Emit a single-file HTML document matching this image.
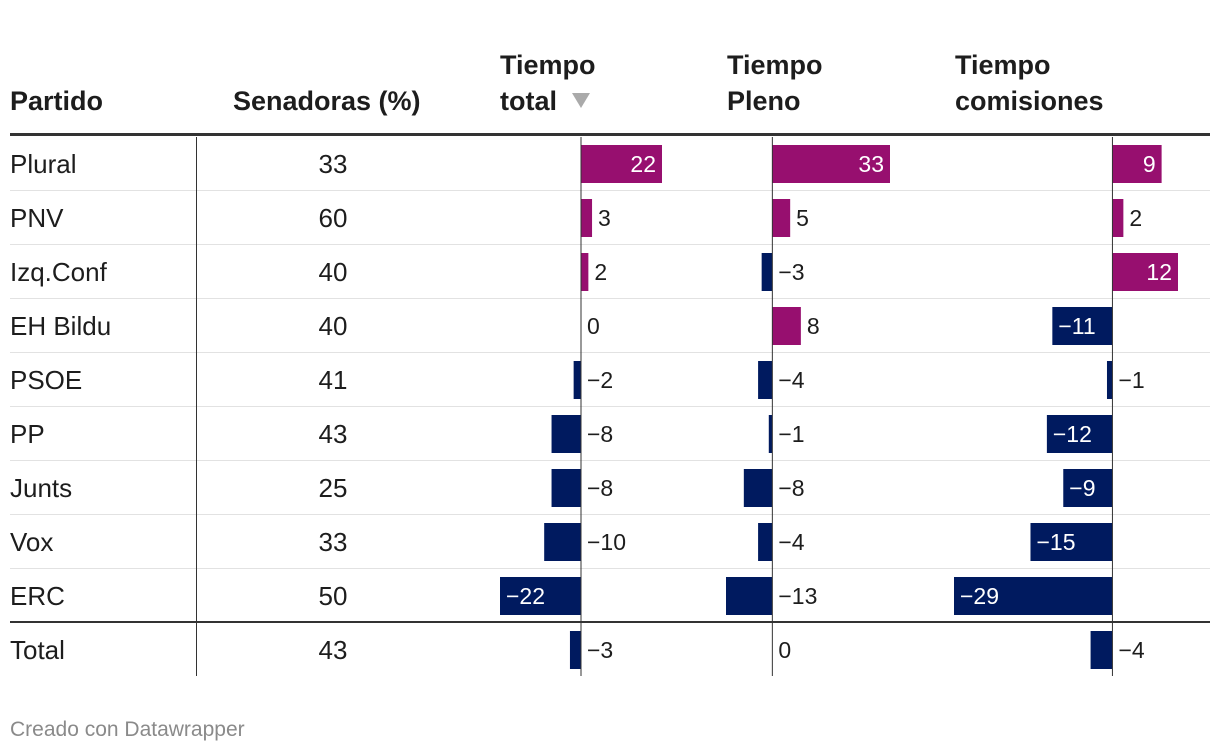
<!DOCTYPE html>
<html><head><meta charset="utf-8"><style>
body{margin:0;background:#fff;width:1220px;height:752px;overflow:hidden;font-family:"Liberation Sans",Arial,sans-serif}
svg{display:block}
</style></head><body>
<svg id="chart" width="1220" height="752"></svg>
<script>
const parties=["Plural","PNV","Izq.Conf","EH Bildu","PSOE","PP","Junts","Vox","ERC","Total"];
const senadoras=[33,60,40,40,41,43,25,33,50,43];
const tiempoTotal=[22,3,2,0,-2,-8,-8,-10,-22,-3];
const tiempoPleno=[33,5,-3,8,-4,-1,-8,-4,-13,0];
const tiempoComisiones=[9,2,12,-11,-1,-12,-9,-15,-29,-4];

const NS="http://www.w3.org/2000/svg";
const svg=document.getElementById('chart');
function el(tag,attrs,parent){const e=document.createElementNS(NS,tag);for(const k in attrs)e.setAttribute(k,attrs[k]);(parent||svg).appendChild(e);return e;}
const POS="#970f6f",NEG="#001a5f",TXT="#1d1d1d";
const rowTop=137,rowH=54;

const hdr=[["Partido",10],["Senadoras (%)",233]];
hdr.forEach(h=>{const t=el('text',{x:h[1],y:110,'font-size':27,'font-weight':'bold',fill:TXT});t.textContent=h[0];

});
[["Tiempo","total",500,true],["Tiempo","Pleno",727,false],["Tiempo","comisiones",955,false]].forEach(h=>{
 const t1=el('text',{x:h[2],y:74,'font-size':27,'font-weight':'bold',fill:TXT});t1.textContent=h[0];
 
 
 const t2=el('text',{x:h[2],y:110,'font-size':27,'font-weight':'bold',fill:TXT});t2.textContent=h[1];
 
 
 if(h[3]){const a=el('path',{d:'M572 93 L590 93 L581 108 Z',fill:'#aaa'});
 
 }
});
const hl=el('rect',{x:10,y:133,width:1200,height:3,fill:'#333'});



parties.forEach((p,i)=>{
 const y=rowTop+i*rowH;
 if(i>0&&i<parties.length-1){const l=el('rect',{x:10,y:y-1,width:1200,height:1,fill:'#e2e2e2'});
 
 }
 if(i===parties.length-1){const l=el('rect',{x:10,y:y-2,width:1200,height:2,fill:'#333'});
 
 }
 const t=el('text',{x:10,y:y+36,'font-size':26,fill:TXT});t.textContent=p;
 
 
 const s=el('text',{x:333,y:y+36,'font-size':26,fill:TXT,'text-anchor':'middle'});s.textContent=senadoras[i];
 
 
});
const vl=el('rect',{x:196,y:137,width:1,height:539,fill:'#333'});



function barColumn(vals,left,width,name){
 const mn=Math.min(0,...vals),mx=Math.max(0,...vals);
 const sc=v=>left+(v-mn)/(mx-mn)*width;
 const z=sc(0);
 vals.forEach((v,i)=>{
  const y=rowTop+i*rowH;
  const x0=Math.min(sc(v),z),w=Math.abs(sc(v)-z);
  const b=el('rect',{x:x0,y:y+8,width:w,height:38,fill:v>=0?POS:NEG});
  
  
  const lab=(v<0?'\u2212':'')+Math.abs(v);
  let tx,anchor='start',col=TXT;
  if(w>=48){col='#fff';if(v>0){tx=x0+w-6;anchor='end';}else{tx=x0+6;}}
  else{tx=(v>0?x0+w:z)+6;}
  const t=el('text',{x:tx,y:y+35,'font-size':23,fill:col,'text-anchor':anchor});t.textContent=lab;
  
  
 });
 const ax=el('rect',{x:z-0.5,y:137,width:1,height:539,fill:'#333'});
 
 
}
barColumn(tiempoTotal,500,162,'tiempo-total');
barColumn(tiempoPleno,726,164,'tiempo-pleno');
barColumn(tiempoComisiones,954,224,'tiempo-comisiones');

const f=el('text',{x:10,y:736,'font-size':21,fill:'#8a8a8a'});f.textContent="Creado con Datawrapper";


</script>
</body></html>
